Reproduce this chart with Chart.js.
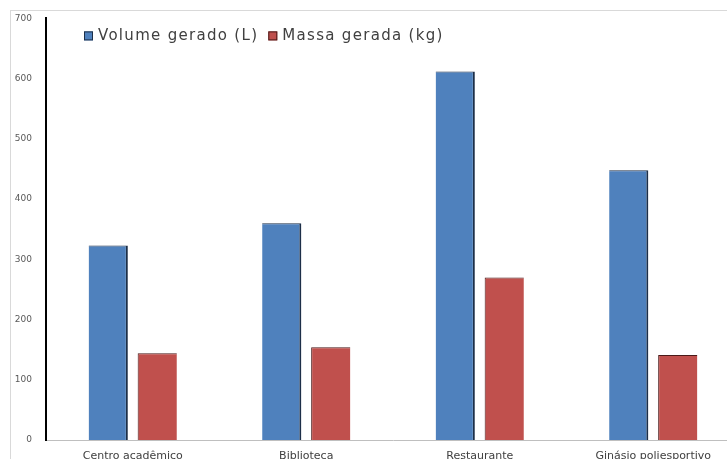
<!DOCTYPE html>
<html>
<head>
<meta charset="utf-8">
<script src="https://cdn.jsdelivr.net/npm/chart.js@4/dist/chart.umd.min.js"></script>
<style>
  body { margin: 0; background: #fff; overflow: hidden; width: 727px; height: 459px; }
  #box { position: absolute; left: 10px; top: 10px; width: 729px; height: 460px;
         border-left: 1px solid #d9d9d9; border-top: 1px solid #d9d9d9; }
  #wrap { position: absolute; left: 0; top: -4px; width: 729px; height: 464px; }
</style>
</head>
<body>
<div id="box"><div id="wrap"><canvas id="canvasWaste"></canvas></div></div>
<script>
"use strict";
// categorias e valores
var categories = ["Centro acadêmico", "Biblioteca", "Restaurante", "Ginásio poliesportivo"];
var volumeGerado = [323, 360, 612, 448];
var massaGerada = [144, 154, 270, 141];
var yTicks = [0, 100, 200, 300, 400, 500, 600, 700];

// legenda horizontal desenhada dentro da área do gráfico
var insideLegend = {
    id: 'insideLegend',
    afterDraw: function (chart) {
        var ctx = chart.ctx;
        var area = chart.chartArea;
        var x = area.left + 38;
        var y = area.top + 18;
        ctx.save();
        ctx.font = '15px "DejaVu Sans"';
        ctx.letterSpacing = '1.3px';
        ctx.textBaseline = 'middle';
        chart.data.datasets.forEach(function (ds) {
            ctx.fillStyle = ds.backgroundColor;
            ctx.fillRect(x, y - 5, 9, 9);
            ctx.strokeStyle = ds.borderColor;
            ctx.lineWidth = 1;
            ctx.strokeRect(x + 0.5, y - 4.5, 8, 8);
            ctx.fillStyle = '#404040';
            ctx.fillText(ds.label, x + 14, y);
            x += 14 + ctx.measureText(ds.label).width + 10;
        });
        ctx.restore();
    }
};

var context = document.getElementById('canvasWaste');
var myChart = new Chart(context, {
    type: 'bar',
    data: {
        labels: categories,
        datasets: [{
            label: 'Volume gerado (L)',
            data: volumeGerado,
            backgroundColor: '#4f81bd',
            borderColor: '#1d2f48',
            borderWidth: { top: 1, right: 2, left: 0, bottom: 0 },
            borderSkipped: false,
            barPercentage: 0.8,
            categoryPercentage: 0.565
        }, {
            label: 'Massa gerada (kg)',
            data: massaGerada,
            backgroundColor: '#c0504d',
            borderColor: '#4a1a19',
            borderWidth: { top: 1, left: 1, right: 0, bottom: 0 },
            borderSkipped: false,
            barPercentage: 0.8,
            categoryPercentage: 0.565
        }]
    },
    options: {
        responsive: true,
        maintainAspectRatio: false,
        animation: false,
        layout: { padding: { top: 2, left: 0, right: 0, bottom: 0 } },
        plugins: {
            tooltip: { enabled: false },
            legend: { display: false }
        },
        scales: {
            x: {
                grid: { display: false },
                border: { display: true, color: '#bfbfbf', width: 1 },
                ticks: {
                    padding: 2,
                    maxRotation: 0,
                    autoSkip: false,
                    color: '#404040',
                    font: { family: 'DejaVu Sans', size: 11 }
                },
                afterFit: function (scale) { scale.height = 31; }
            },
            y: {
                min: 0,
                max: 700,
                grid: { display: false },
                border: { display: true, color: '#000', width: 2 },
                afterBuildTicks: function (scale) {
                    scale.ticks = yTicks.map(function (v) { return { value: v }; });
                },
                ticks: {
                    padding: 6,
                    color: '#595959',
                    font: { family: 'DejaVu Sans', size: 9 }
                },
                afterFit: function (scale) { scale.width = 35; }
            }
        }
    },
    plugins: [insideLegend]
});
</script>
</body>
</html>
